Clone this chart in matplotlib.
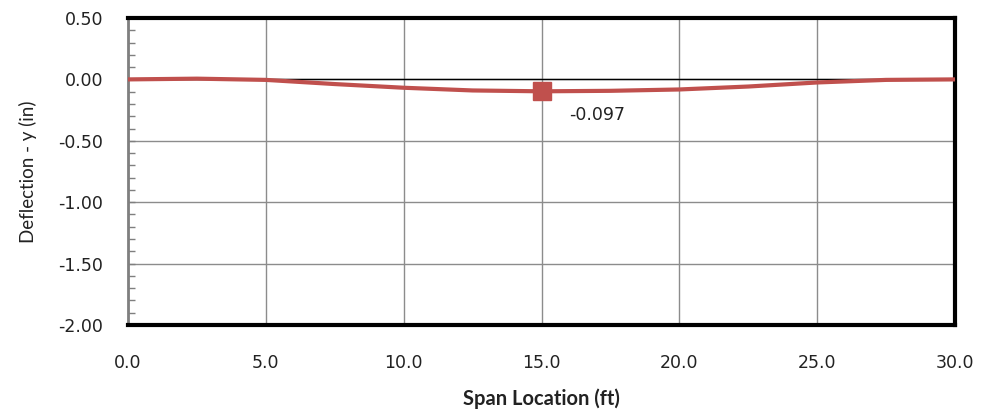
import numpy as np
import matplotlib.pyplot as plt
from matplotlib.ticker import MultipleLocator

# deflection along the span
span_ft = [0.0, 2.5, 5.0, 7.5, 10.0, 12.5, 15.0, 17.5, 20.0, 22.5, 25.0, 27.5, 30.0]
deflection_in = [0.0, 0.006, -0.004, -0.038, -0.068, -0.09, -0.097, -0.093, -0.082, -0.058, -0.025, -0.004, 0.0]

max_x = 15.0
max_y = -0.097
max_label = "-0.097"

red = '#C0504D'

fig = plt.figure(figsize=(9.82, 4.15), dpi=100)
ax = fig.add_axes([128 / 982, 1 - 325 / 415, (955 - 128) / 982, (325 - 18) / 415])

ax.plot(span_ft, deflection_in, color=red, linewidth=3, solid_capstyle='butt', zorder=3)
ax.plot([max_x], [max_y], marker='s', markersize=12.5, color=red, linestyle='none', zorder=4)
ax.annotate(max_label, (max_x, max_y), xytext=(20, -17), textcoords='offset points',
            fontsize=12.5, fontfamily='DejaVu Sans', color='#222222', va='center', ha='left')

ax.axhline(0, color='black', linewidth=1, zorder=2)

ax.set_xlim(0, 30)
ax.set_ylim(-2.0, 0.5)
ax.xaxis.set_major_locator(MultipleLocator(5))
ax.yaxis.set_major_locator(MultipleLocator(0.5))
ax.yaxis.set_minor_locator(MultipleLocator(0.1))
ax.set_xticks(np.arange(0, 31, 5))
ax.set_xticklabels([f'{v:.1f}' for v in np.arange(0, 31, 5)])
ax.set_yticklabels([f'{v:.2f}' for v in ax.get_yticks()])

ax.grid(True, which='major', color='#8c8c8c', linewidth=1, zorder=1)
ax.set_axisbelow(True)

ax.tick_params(axis='x', length=0, pad=21, labelsize=12.5, labelcolor='#222222')
ax.tick_params(axis='y', which='both', direction='in', length=5, width=1,
               color='#7f7f7f', pad=18, labelsize=12.5, labelcolor='#222222')

for side in ['top', 'right', 'bottom']:
    ax.spines[side].set_color('black')
    ax.spines[side].set_linewidth(3)
ax.spines['left'].set_color('#7f7f7f')
ax.spines['left'].set_linewidth(2)

ax.set_xlabel('Span Location (ft)', fontsize=14.5, fontfamily='Lato', fontweight='bold',
              color='#222222', labelpad=12)
ax.set_ylabel('Deflection - y (in)', fontsize=13.5, fontfamily='Lato',
              color='#222222', labelpad=15)

fig.savefig('out.png', dpi=100)
